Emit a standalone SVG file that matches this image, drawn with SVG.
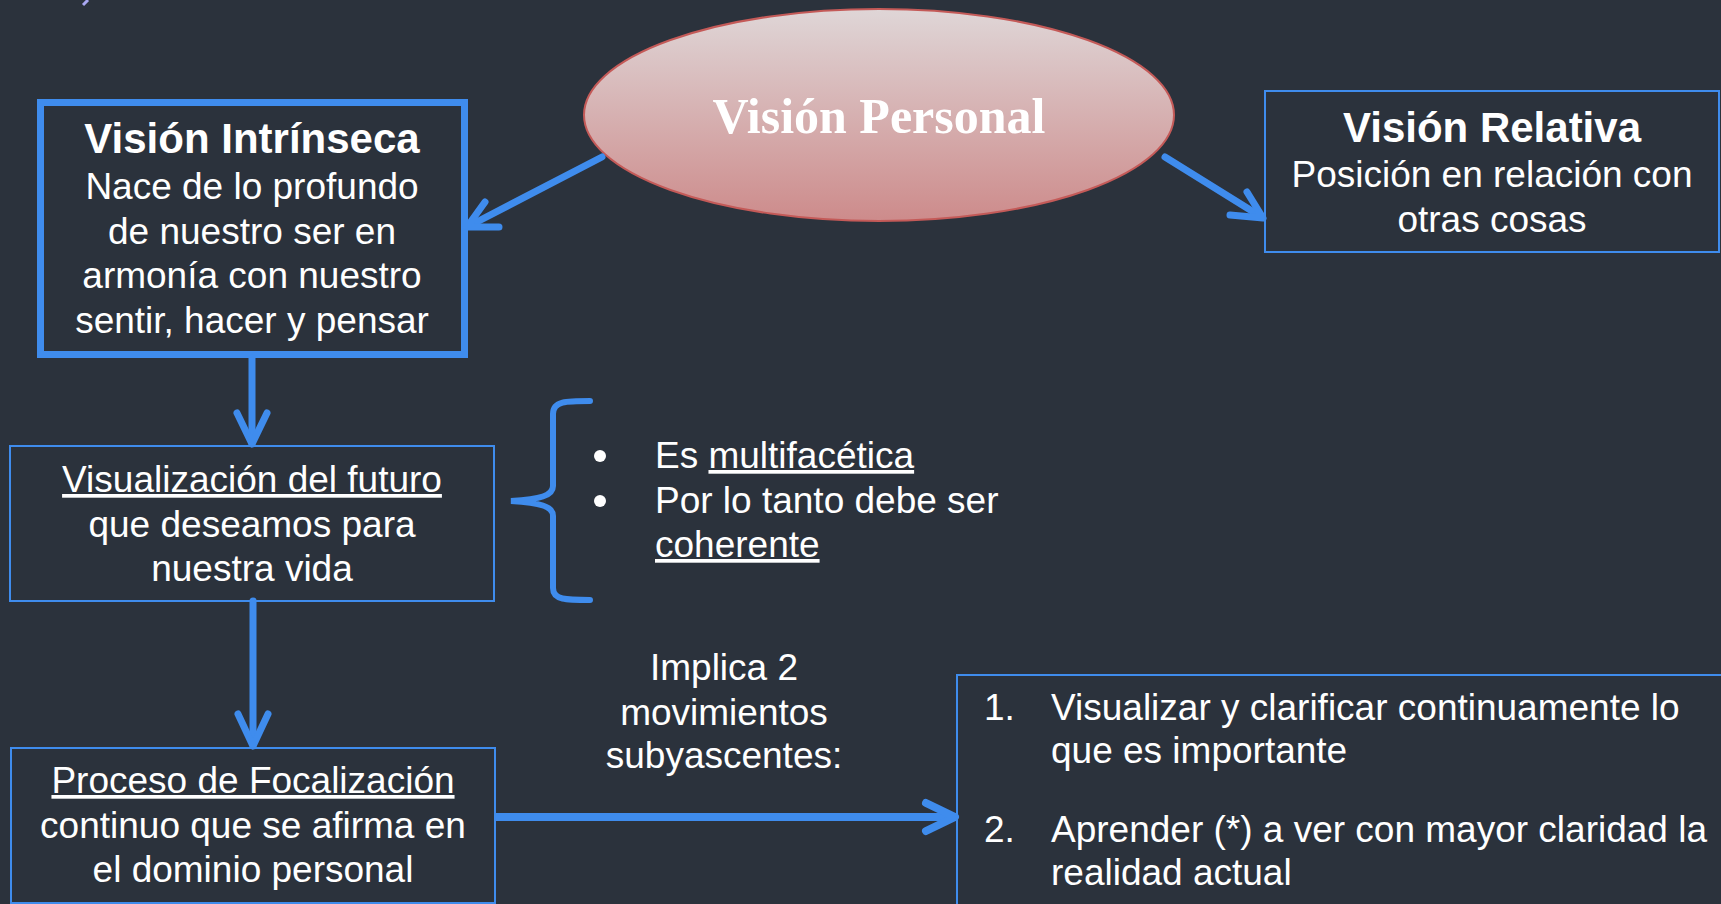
<svg xmlns="http://www.w3.org/2000/svg" width="1721" height="904" viewBox="0 0 1721 904">
<defs>
<linearGradient id="egrad" x1="0" y1="0" x2="0" y2="1">
<stop offset="0" stop-color="#dfd6d7"/>
<stop offset="1" stop-color="#cd8b8b"/>
</linearGradient>
</defs>
<style>
.bg{fill:#2b323c}
.box{fill:none;stroke:#3f8ced;stroke-width:2}
.boxthick{fill:none;stroke:#3f8ced;stroke-width:7}
.t{font-family:"Liberation Sans",Arial,sans-serif;font-size:37px;fill:#ffffff}
.tb{font-family:"Liberation Sans",Arial,sans-serif;font-size:42px;font-weight:bold;fill:#ffffff}
.c{text-anchor:middle}
.u{text-decoration:underline}
.conn{stroke:#3f8ced;stroke-width:7;fill:none;stroke-linecap:round;stroke-linejoin:round}
</style>
<rect class="bg" x="0" y="0" width="1721" height="904"/>
<line x1="83" y1="5" x2="88" y2="0" stroke="#a9a8f2" stroke-width="3"/>

<g id="vision-personal">
<ellipse cx="879" cy="115" rx="295" ry="106" fill="url(#egrad)" stroke="#c45a58" stroke-width="2"/>
<text x="879" y="133" text-anchor="middle" font-family="'Liberation Serif','Times New Roman',serif" font-size="50" font-weight="bold" fill="#ffffff">Visión Personal</text>
</g>

<g id="vision-intrinseca">
<rect class="boxthick" x="40.5" y="102.5" width="424" height="252"/>
<text class="tb c" x="252" y="153">Visión Intrínseca</text>
<text class="t c" x="252" y="199">Nace de lo profundo</text>
<text class="t c" x="252" y="244">de nuestro ser en</text>
<text class="t c" x="252" y="288">armonía con nuestro</text>
<text class="t c" x="252" y="333">sentir, hacer y pensar</text>
</g>

<g id="vision-relativa">
<rect class="box" x="1265" y="91" width="454" height="161"/>
<text class="tb c" x="1492" y="142">Visión Relativa</text>
<text class="t c" x="1492" y="187">Posición en relación con</text>
<text class="t c" x="1492" y="232">otras cosas</text>
</g>

<g id="visualizacion">
<rect class="box" x="10" y="446" width="484" height="155"/>
<text class="t c" x="252" y="492"><tspan class="u">Visualización del futuro</tspan></text>
<text class="t c" x="252" y="537">que deseamos para</text>
<text class="t c" x="252" y="581">nuestra vida</text>
</g>

<g id="caracteristicas">
<path d="M590,401 C566,401 553,401 553,414 L553,486 C553,496 540,499 511,501 C540,503 553,506 553,516 L553,588 C553,600 566,600 590,600" stroke="#3f8ced" stroke-width="6" fill="none" stroke-linecap="round"/>
<circle cx="600" cy="456" r="6" fill="#ffffff"/>
<circle cx="600" cy="501" r="6" fill="#ffffff"/>
<text class="t" x="655" y="468">Es <tspan class="u">multifacética</tspan></text>
<text class="t" x="655" y="513">Por lo tanto debe ser</text>
<text class="t" x="655" y="557"><tspan class="u">coherente</tspan></text>
</g>

<g id="proceso">
<rect class="box" x="11" y="748" width="484" height="155"/>
<text class="t c" x="253" y="793"><tspan class="u">Proceso de Focalización</tspan></text>
<text class="t c" x="253" y="838">continuo que se afirma en</text>
<text class="t c" x="253" y="882">el dominio personal</text>
</g>

<g id="implica">
<text class="t c" x="724" y="680">Implica 2</text>
<text class="t c" x="724" y="725">movimientos</text>
<text class="t c" x="724" y="768">subyascentes:</text>
</g>

<g id="movimientos">
<rect class="box" x="957" y="675" width="800" height="300"/>
<text class="t" x="984" y="720">1.</text>
<text class="t" x="1051" y="720">Visualizar y clarificar continuamente lo</text>
<text class="t" x="1051" y="763">que es importante</text>
<text class="t" x="984" y="842">2.</text>
<text class="t" x="1051" y="842">Aprender (*) a ver con mayor claridad la</text>
<text class="t" x="1051" y="885">realidad actual</text>
</g>

<g id="connectors">
<line class="conn" x1="602" y1="157" x2="469" y2="226"/>
<polyline class="conn" points="485,202 467,227 499,227"/>
<line class="conn" x1="1165" y1="157" x2="1260" y2="216"/>
<polyline class="conn" points="1247,192 1263,218 1230,215"/>
<line class="conn" x1="252" y1="358" x2="252" y2="443"/>
<polyline class="conn" points="237,413 252,444 267,413"/>
<line class="conn" x1="253" y1="601" x2="253" y2="745"/>
<polyline class="conn" points="238,714 253,746 268,714"/>
<line class="conn" x1="495" y1="817" x2="953" y2="817" style="stroke-width:8;stroke-linecap:butt"/>
<polyline class="conn" points="926,803 955,817 926,831" style="stroke-width:8"/>
</g>
</svg>
